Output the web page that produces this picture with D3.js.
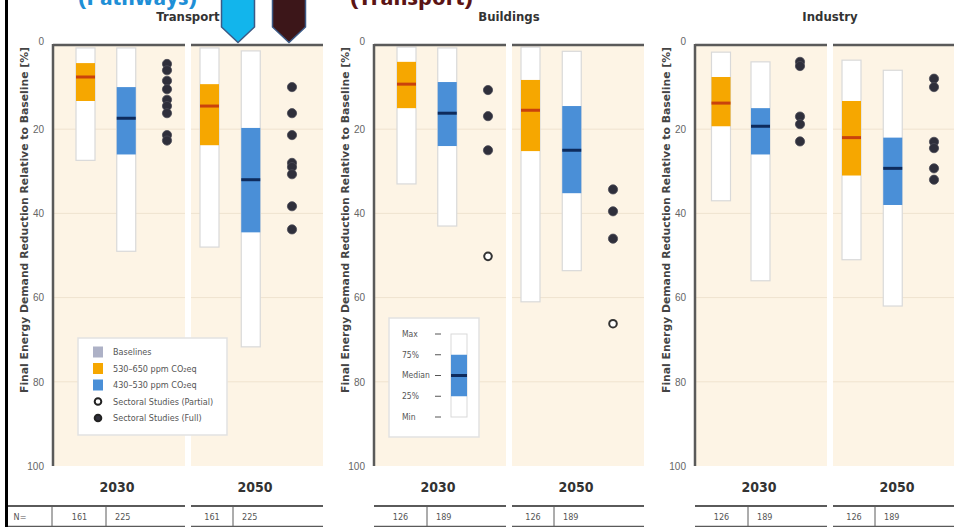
<!DOCTYPE html>
<html>
<head>
<meta charset="utf-8">
<script src="https://cdn.jsdelivr.net/npm/d3@7"></script>
<style>
  body { margin: 0; background: #fff; }
  svg { display: block; font-family: "Liberation Sans Narrow", "DejaVu Sans Condensed", "DejaVu Sans", sans-serif; font-stretch: condensed; }
</style>
</head>
<body>
<script>
// --- data (% reduction relative to baseline) ---
const sectors = ["Transport", "Buildings", "Industry"];
const years = ["2030", "2050"];
const scenarios = ["530–650 ppm CO₂eq", "430–530 ppm CO₂eq"];
const yTicks = [0, 20, 40, 60, 80, 100];

// each box: [max-end (top), 75%, median, 25%, min-end (bottom)], per year then scenario
const transportBoxes = [
  [[0.7, 4.3, 7.6, 13.3, 27.4], [0.7, 10, 17.4, 26, 49]],
  [[0.7, 9.3, 14.5, 23.8, 48], [1.4, 19.7, 32, 44.5, 71.7]]
];
const buildingsBoxes = [
  [[0.5, 4, 9.3, 15, 33], [0.7, 8.8, 16.2, 24, 43]],
  [[0.5, 8.3, 15.5, 25.2, 61], [1.5, 14.5, 25, 35.2, 53.6]]
];
const industryBoxes = [
  [[1.7, 7.6, 13.8, 19.3, 37], [4, 15, 19.3, 26, 56]],
  [[3.6, 13.3, 22, 31, 51], [6, 22, 29.3, 38, 62]]
];

// sectoral studies, per year
const transportFull = [[4.5, 6, 8.5, 10.5, 13, 14.5, 16.2, 21.4, 22.7], [10, 16.2, 21.4, 28, 29, 30.7, 38.3, 43.8]];
const transportPartial = [[], []];
const buildingsFull = [[10.7, 16.9, 25], [34.3, 39.5, 46]];
const buildingsPartial = [[50.2], [66.2]];
const industryFull = [[4, 5, 17, 18.8, 22.9], [8, 10, 23, 24.5, 29.3, 32]];
const industryPartial = [[], []];

// number of scenarios per year: [530-650, 430-530]
const nCounts = [[161, 225], [126, 189], [126, 189]];

const legendItems = ["Baselines", "530–650 ppm CO₂eq", "430–530 ppm CO₂eq", "Sectoral Studies (Partial)", "Sectoral Studies (Full)"];
const insetLabels = ["Max", "75%", "Median", "25%", "Min"];

const boxes = [transportBoxes, buildingsBoxes, industryBoxes];
const fulls = [transportFull, buildingsFull, industryFull];
const partials = [transportPartial, buildingsPartial, industryPartial];

// --- layout ---
const W = 954, H = 527;
const panelX = [53, 374, 695];
const panelW = 270;
// column centre ranges inside each year band, per panel
const innerRange = [
  [[32.5, 114], [18.5, 101]],
  [[32.5, 114], [18.5, 101]],
  [[26, 105], [18.5, 101]]
];
const fillColor = ["#f6a700", "#4a8fd7"];
const medColor = ["#c9420c", "#0e2b5c"];
const beige = "#fdf4e5";
const axisGrey = "#5a5a5a";

const y = d3.scaleLinear().domain([0, 100]).range([45, 466]);

const svg = d3.select("body").append("svg").attr("width", W).attr("height", H);

sectors.forEach((sector, si) => {
  const x0 = panelX[si];
  const g = svg.append("g");
  const xYear = d3.scaleBand().domain(years).range([x0, x0 + panelW]).paddingInner(0.0435);
  const inner = years.map((yr, yi) =>
    d3.scalePoint().domain(["a", "b", "s"]).range(innerRange[si][yi])
  );
  const bw = 19;

  years.forEach((yr, yi) => {
    const bx = xYear(yr);
    const band = xYear.bandwidth();
    const right = Math.min(bx + band, W);
    g.append("rect").attr("x", bx).attr("y", y(0)).attr("width", right - bx).attr("height", y(100) - y(0)).attr("fill", beige);
    g.selectAll(null).data([20, 40, 60, 80]).join("line")
      .attr("x1", bx).attr("x2", right).attr("y1", d => y(d)).attr("y2", d => y(d))
      .attr("stroke", "#efe3cf").attr("stroke-width", 1);

    boxes[si][yi].forEach((b, ci) => {
      const cx = bx + inner[yi](ci === 0 ? "a" : "b");
      g.append("rect").attr("x", cx - bw / 2).attr("y", y(b[0])).attr("width", bw).attr("height", y(b[4]) - y(b[0]))
        .attr("fill", "#fff").attr("stroke", "#d9d9d9").attr("stroke-width", 1.2);
      g.append("rect").attr("x", cx - bw / 2).attr("y", y(b[1])).attr("width", bw).attr("height", y(b[3]) - y(b[1]))
        .attr("fill", fillColor[ci]);
      g.append("line").attr("x1", cx - bw / 2).attr("x2", cx + bw / 2).attr("y1", y(b[2])).attr("y2", y(b[2]))
        .attr("stroke", medColor[ci]).attr("stroke-width", 3);
    });

    const sx = bx + inner[yi]("s");
    g.selectAll(null).data(fulls[si][yi]).join("circle")
      .attr("cx", sx).attr("cy", d => y(d)).attr("r", 4.6)
      .attr("fill", "#2f2f3b").attr("stroke", "#4a4a55").attr("stroke-width", 0.8);
    g.selectAll(null).data(partials[si][yi]).join("circle")
      .attr("cx", sx).attr("cy", d => y(d)).attr("r", 3.8)
      .attr("fill", "#fff").attr("stroke", "#333").attr("stroke-width", 2);

    // top rule
    g.append("line").attr("x1", bx).attr("x2", right).attr("y1", y(0)).attr("y2", y(0))
      .attr("stroke", axisGrey).attr("stroke-width", 2.5);

    // year label
    g.append("text").attr("x", bx + band / 2 - 2).attr("y", 492).attr("text-anchor", "middle")
      .attr("font-size", 14).attr("font-weight", "bold").attr("fill", "#333").text(yr);

    // N= table
    const tStart = (si === 0 && yi === 0) ? 5 : bx;
    g.append("line").attr("x1", tStart).attr("x2", right).attr("y1", 506).attr("y2", 506)
      .attr("stroke", axisGrey).attr("stroke-width", 2);
    g.append("line").attr("x1", tStart).attr("x2", right).attr("y1", 526.5).attr("y2", 526.5)
      .attr("stroke", axisGrey).attr("stroke-width", 1.5);
    const sep = bx + (yi === 0 ? 53 : 42);
    g.append("line").attr("x1", sep).attr("x2", sep).attr("y1", 506).attr("y2", 527)
      .attr("stroke", axisGrey).attr("stroke-width", 1);
    g.append("text").attr("x", (bx + sep) / 2).attr("y", 520).attr("text-anchor", "middle")
      .attr("font-size", 9).attr("fill", "#555").text(nCounts[si][0]);
    g.append("text").attr("x", sep + 9).attr("y", 520)
      .attr("font-size", 9).attr("fill", "#555").text(nCounts[si][1]);
  });

  // y axis
  const ax = g.append("g").attr("transform", `translate(${x0},0)`)
    .call(d3.axisLeft(y).tickValues(yTicks).tickSize(0).tickSizeOuter(0).tickPadding(9));
  ax.select(".domain").attr("stroke", axisGrey).attr("stroke-width", 2.5).attr("d", `M0,${y(0) - 1}V${y(100)}`);
  ax.selectAll(".tick text").attr("font-size", 10).attr("fill", "#666")
    .attr("font-family", "inherit")
    .attr("dy", d => d === 0 ? "-0.1em" : "0.32em");

  g.append("text")
    .attr("transform", `translate(${x0 - 29},220) rotate(-90)`)
    .attr("text-anchor", "middle").attr("dominant-baseline", "central")
    .attr("font-size", 11).attr("font-weight", "bold").attr("fill", "#444")
    .attr("textLength", 346).attr("lengthAdjust", "spacingAndGlyphs")
    .text("Final Energy Demand Reduction Relative to Baseline [%]");

  g.append("text").attr("x", x0 + panelW / 2).attr("y", 21).attr("text-anchor", "middle")
    .attr("font-size", 13).attr("font-weight", "bold").attr("fill", "#333").text(sector);
});

// "N=" label cell
svg.append("line").attr("x1", 52).attr("x2", 52).attr("y1", 506).attr("y2", 527).attr("stroke", axisGrey);
svg.append("text").attr("x", 20).attr("y", 520).attr("text-anchor", "middle")
  .attr("font-size", 9).attr("fill", "#555").text("N=");

// main legend (Transport panel)
const lg = svg.append("g").attr("transform", "translate(78,338)");
lg.append("rect").attr("width", 149).attr("height", 97).attr("fill", "#fff")
  .attr("stroke", "#e2e2e2").attr("stroke-width", 1.5);
const ly = d3.scalePoint().domain(legendItems).range([14, 80]);
legendItems.forEach((d, i) => {
  const cy = ly(d);
  if (i < 3) {
    lg.append("rect").attr("x", 15).attr("y", cy - 5.5).attr("width", 10).attr("height", 11)
      .attr("fill", ["#adb1c6", fillColor[0], fillColor[1]][i]);
  } else {
    lg.append("circle").attr("cx", 20).attr("cy", cy).attr("r", 3.3)
      .attr("fill", i === 3 ? "#fff" : "#2f2f3b").attr("stroke", "#222").attr("stroke-width", 2);
  }
  lg.append("text").attr("x", 35).attr("y", cy).attr("dy", "0.35em")
    .attr("font-size", 9).attr("fill", "#555").text(d);
});

// box explanation inset (Buildings panel)
const ig = svg.append("g").attr("transform", "translate(389,318)");
ig.append("rect").attr("width", 90).attr("height", 119).attr("fill", "#fff")
  .attr("stroke", "#e2e2e2").attr("stroke-width", 1.5);
const iy = d3.scalePoint().domain(insetLabels).range([16, 99]);
ig.append("rect").attr("x", 62).attr("y", iy("Max")).attr("width", 16).attr("height", iy("Min") - iy("Max"))
  .attr("fill", "#fff").attr("stroke", "#d9d9d9");
ig.append("rect").attr("x", 62).attr("y", iy("75%")).attr("width", 16).attr("height", iy("25%") - iy("75%"))
  .attr("fill", fillColor[1]);
ig.append("line").attr("x1", 62).attr("x2", 78).attr("y1", iy("Median")).attr("y2", iy("Median"))
  .attr("stroke", medColor[1]).attr("stroke-width", 3);
insetLabels.forEach(d => {
  ig.append("text").attr("x", 13).attr("y", iy(d)).attr("dy", "0.35em")
    .attr("font-size", 8.5).attr("fill", "#555").text(d);
  ig.append("line").attr("x1", 46).attr("x2", 52).attr("y1", iy(d)).attr("y2", iy(d))
    .attr("stroke", "#555").attr("stroke-width", 1);
});

// left frame line
svg.append("rect").attr("x", 5).attr("y", 0).attr("width", 3).attr("height", H).attr("fill", "#000");

// overlay annotations at the top (cut by the top edge, as in the source)
svg.append("text").attr("x", 78).attr("y", 5).attr("font-family", "Open Sans, sans-serif")
  .attr("font-size", 22).attr("font-weight", "bold").attr("fill", "#1f8fd6")
  .attr("textLength", 119).attr("lengthAdjust", "spacingAndGlyphs").text("(Pathways)");
svg.append("text").attr("x", 350).attr("y", 5).attr("font-family", "Open Sans, sans-serif")
  .attr("font-size", 22).attr("font-weight", "bold").attr("fill", "#5b1414")
  .attr("textLength", 123).attr("lengthAdjust", "spacingAndGlyphs").text("(Transport)");

const arrow = (cx, fill) => {
  const p = d3.path();
  p.moveTo(cx - 16.5, -2); p.lineTo(cx + 16.5, -2); p.lineTo(cx + 16.5, 27);
  p.lineTo(cx, 42.5); p.lineTo(cx - 16.5, 27); p.closePath();
  svg.append("path").attr("d", p.toString()).attr("fill", fill)
    .attr("stroke", "#3b5a86").attr("stroke-width", 1.5);
};
arrow(238, "#12b5ec");
arrow(289, "#3c1619");
</script>
</body>
</html>
